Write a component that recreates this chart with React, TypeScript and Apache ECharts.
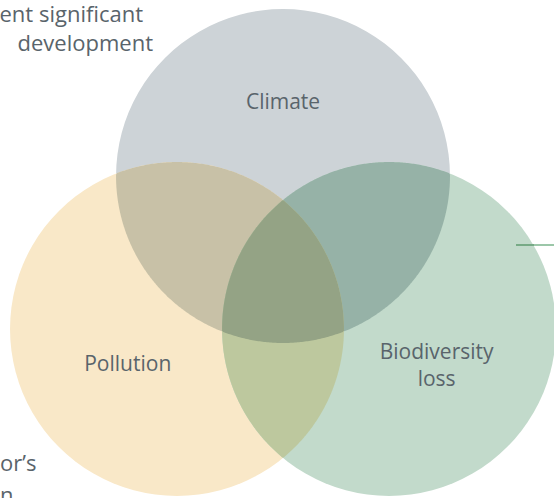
import React, { useEffect, useRef } from "react";
import * as echarts from "echarts";

// Venn sets (abstract units: radius 1)
const setNames = ["Climate", "Pollution", "Biodiversity\nloss"];
const centerX = [0, -0.635, 0.635];
const centerY = [0.55, -0.366, -0.366];
const radius = [1, 1, 1];
const labelX = [0, -0.93, 0.92];
const labelY = [1.0, -0.57, -0.58];

// Regions of the diagram (set membership) and their fills
const regionSets = [[0], [1], [2], [0, 1], [0, 2], [1, 2], [0, 1, 2]];
const regionColors = ["#cdd3d7", "#f9e8c8", "#c2dacb", "#c8c1a7", "#96b2a7", "#bdc89e", "#94a385"];

// Partially visible surrounding text
const topLines = ["ent significant", "development"];
const bottomLines = ["or\u2019s", "n"];

export default function App() {
  const ref = useRef<HTMLDivElement>(null);
  useEffect(() => {
    if (!ref.current) return;
    const chart = echarts.init(ref.current, null, { renderer: "svg" });
    const regionData = regionSets.map((s) => [centerX[s[0]], centerY[s[0]]]);
    const labelData = setNames.map((n, i) => [labelX[i], labelY[i], i]);
    const textColor = "#59646b";
    const font = "Open Sans";
    const N = 720;
    chart.setOption({
      animation: false,
      backgroundColor: "#ffffff",
      grid: { left: 0, right: 0, top: 0, bottom: 0 },
      xAxis: { type: "value", min: -1.695, max: 1.623, show: false },
      yAxis: { type: "value", min: -1.378, max: 1.604, show: false },
      series: [
        {
          type: "custom",
          coordinateSystem: "cartesian2d",
          data: regionData,
          renderItem: (params: any, api: any) => {
            const sets = regionSets[params.dataIndex];
            const circles = sets.map((i) => {
              const c = api.coord([centerX[i], centerY[i]]);
              const r = api.size([radius[i], 0])[0];
              return { cx: c[0], cy: c[1], r };
            });
            const fill = regionColors[params.dataIndex];
            if (circles.length === 1) {
              return { type: "circle", shape: circles[0], style: { fill } };
            }
            const pts: number[][] = [];
            circles.forEach((c, ci) => {
              for (let k = 0; k < N; k++) {
                const a = (k / N) * Math.PI * 2;
                const x = c.cx + c.r * Math.cos(a);
                const y = c.cy + c.r * Math.sin(a);
                let inside = true;
                circles.forEach((o, oi) => {
                  if (oi === ci) return;
                  const d = Math.hypot(x - o.cx, y - o.cy);
                  if (d > o.r + 0.01) inside = false;
                });
                if (inside) pts.push([x, y]);
              }
            });
            let mx = 0, my = 0;
            pts.forEach((p) => { mx += p[0]; my += p[1]; });
            mx /= pts.length; my /= pts.length;
            pts.sort((p, q) => Math.atan2(p[1] - my, p[0] - mx) - Math.atan2(q[1] - my, q[0] - mx));
            return { type: "polygon", shape: { points: pts }, style: { fill } };
          },
          z: 2,
        },
        {
          type: "custom",
          coordinateSystem: "cartesian2d",
          data: labelData,
          renderItem: (params: any, api: any) => {
            const c = api.coord([api.value(0), api.value(1)]);
            const idx = api.value(2);
            return {
              type: "text",
              x: c[0],
              y: c[1],
              style: {
                text: setNames[idx],
                fill: textColor,
                fontSize: 21,
                fontFamily: font,
                lineHeight: 27,
                align: "center",
                verticalAlign: "middle",
              },
            };
          },
          z: 5,
        },
      ],
      graphic: [
        {
          type: "text",
          x: 143,
          y: 2,
          style: { text: topLines[0], fill: textColor, fontSize: 22, fontFamily: font, align: "right" },
        },
        {
          type: "text",
          x: 153,
          y: 31,
          style: { text: topLines[1], fill: textColor, fontSize: 22, fontFamily: font, align: "right" },
        },
        {
          type: "text",
          x: 0,
          y: 451,
          style: { text: bottomLines[0], fill: textColor, fontSize: 22, fontFamily: font },
        },
        {
          type: "text",
          x: 0,
          y: 483,
          style: { text: bottomLines[1], fill: textColor, fontSize: 22, fontFamily: font },
        },
        {
          type: "line",
          shape: { x1: 516, y1: 245, x2: 554, y2: 245 },
          style: { stroke: "#9cc7a9", lineWidth: 2 },
          z: 10,
        },
        {
          type: "line",
          shape: { x1: 516, y1: 245, x2: 534, y2: 245 },
          style: { stroke: "#77aa86", lineWidth: 2 },
          z: 11,
        },
      ],
    });
    return () => chart.dispose();
  }, []);
  return (
    <div
      ref={ref}
      style={{ position: "fixed", left: 0, top: 0, width: 554, height: 498 }}
    />
  );
}
